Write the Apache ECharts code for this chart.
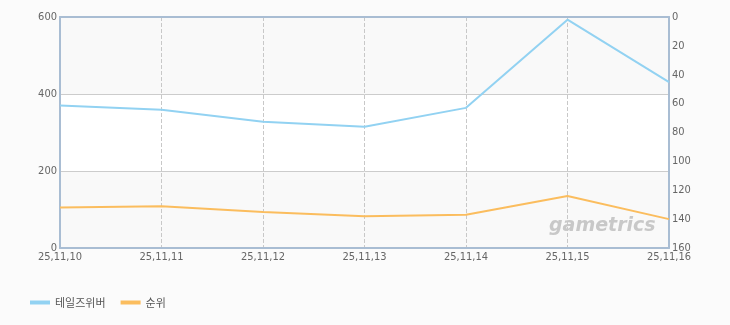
<!DOCTYPE html>
<html><head><meta charset="utf-8">
<script src="https://cdn.jsdelivr.net/npm/echarts@6/dist/echarts.min.js"></script>
<style>html,body{margin:0;padding:0;background:#fbfbfb;}#c{width:730px;height:325px;}</style>
</head><body><div id="c"></div>
<script>
const categories = ['25,11,10','25,11,11','25,11,12','25,11,13','25,11,14','25,11,15','25,11,16'];
const viewers = [370, 359, 328, 315, 364, 593, 431];
const rank = [132, 131, 135, 138, 137, 124, 140];
const seriesNames = ['테일즈위버', '순위'];

const frame = { show: true, lineStyle: { color: '#a9bdd3', width: 2 } };
const labelFont = { color: '#666', fontSize: 11, fontFamily: 'DejaVu Sans Condensed, sans-serif' };

const chart = echarts.init(document.getElementById('c'));
chart.setOption({
  backgroundColor: '#fbfbfb',
  animation: false,
  grid: { left: 60, right: 61, top: 17, bottom: 77 },
  legend: {
    left: 25, top: 292, itemWidth: 20, itemHeight: 4, itemGap: 15,
    icon: 'rect',
    textStyle: { color: '#555', fontSize: 11, fontFamily: 'Noto Sans CJK KR, sans-serif' },
    data: seriesNames
  },
  xAxis: [{
    type: 'category', data: categories, boundaryGap: false, position: 'bottom',
    axisLine: frame, axisTick: { show: false },
    axisLabel: Object.assign({ margin: 4 }, labelFont),
    splitLine: { show: true, lineStyle: { type: 'dashed', color: '#c8c8c8' } }
  }, {
    type: 'category', data: categories, boundaryGap: false, position: 'top',
    axisLine: frame, axisTick: { show: false }, axisLabel: { show: false }, splitLine: { show: false }
  }],
  yAxis: [
    { type: 'value', min: 0, max: 600, interval: 200,
      axisLine: frame, axisTick: { show: false },
      axisLabel: Object.assign({ margin: 3 }, labelFont),
      splitLine: { lineStyle: { color: '#cccccc' } },
      splitArea: { show: true, areaStyle: { color: ['#f9f9f9', '#ffffff'] } } },
    { type: 'value', min: 0, max: 160, interval: 20, inverse: true,
      axisLine: frame, axisTick: { show: false },
      axisLabel: Object.assign({ margin: 3 }, labelFont),
      splitLine: { show: false } }
  ],
  graphic: [{
    type: 'text', left: 549, top: 217, z: 1,
    style: { text: 'gametrics', fill: '#c8c8c8', font: 'italic bold 19px DejaVu Sans, sans-serif' }
  }],
  series: [
    { name: seriesNames[0], type: 'line', data: viewers, yAxisIndex: 0, smooth: false, showSymbol: false, z: 3,
      lineStyle: { color: '#92d2f2', width: 2 }, itemStyle: { color: '#92d2f2' } },
    { name: seriesNames[1], type: 'line', data: rank, yAxisIndex: 1, smooth: false, showSymbol: false, z: 3,
      lineStyle: { color: '#fbbd5e', width: 2 }, itemStyle: { color: '#fbbd5e' } }
  ]
});
</script></body></html>
